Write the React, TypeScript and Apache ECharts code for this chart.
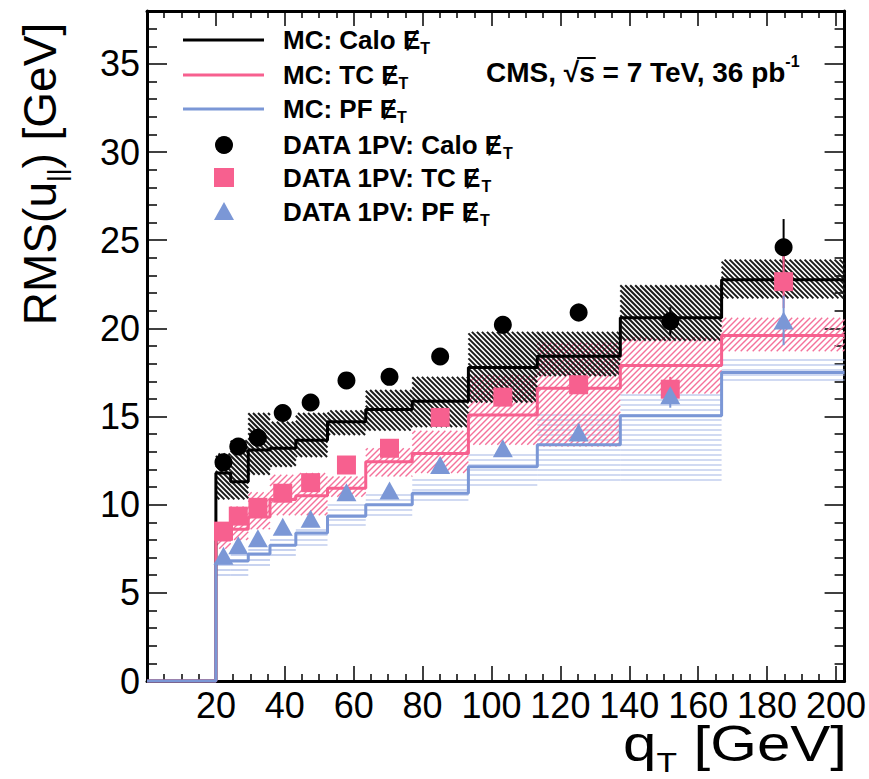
import React, { useEffect, useRef } from 'react';
import * as echarts from 'echarts';

// ---- data ----
const binEdges = [20, 24.3, 29.4, 35.7, 43.2, 52.4, 63.5, 77, 93.3, 113.3, 137.4, 166.8, 202.5];
const qtPoints = [22.2, 26.5, 32.2, 39.4, 47.5, 57.9, 70.4, 85.1, 103.3, 125.3, 151.9, 184.8];

const mcCalo = [11.8, 11.3, 13.1, 13.2, 13.65, 14.7, 15.4, 15.87, 17.78, 18.42, 20.6, 22.76];
const mcCaloLo = [10.3, 10.3, 11.7, 12.15, 12.7, 13.95, 14.2, 14.4, 15.8, 17.3, 19.3, 21.7];
const mcCaloHi = [12.9, 13.65, 15.2, 14.7, 15.2, 15.35, 16.5, 17.25, 19.8, 19.8, 22.45, 23.9];

const mcTc = [8.0, 8.6, 9.3, 10.3, 10.5, 10.93, 12.43, 12.9, 15.08, 16.6, 17.9, 19.6];
const mcTcLo = [7.5, 8.0, 8.6, 9.4, 9.4, 10.45, 11.6, 11.8, 13.4, 13.3, 16.3, 18.7];
const mcTcHi = [8.8, 9.9, 10.7, 11.7, 11.8, 11.6, 13.2, 14.2, 17.35, 19.2, 19.5, 20.6];

const mcPf = [6.7, 6.8, 7.2, 7.7, 8.4, 9.35, 10.0, 10.65, 12.15, 13.4, 15.05, 17.5];
const mcPfLo = [6.0, 6.0, 6.5, 6.9, 7.55, 8.75, 9.4, 10.0, 11.0, 11.4, 11.4, 16.9];
const mcPfHi = [7.05, 7.3, 7.55, 8.0, 8.75, 10.1, 10.65, 11.6, 12.9, 15.3, 16.3, 18.4];

const dataCalo = [12.4, 13.3, 13.8, 15.2, 15.8, 17.05, 17.25, 18.4, 20.2, 20.9, 20.4, 24.6];
const dataCaloErr = [0.2, 0.2, 0.2, 0.2, 0.2, 0.25, 0.25, 0.3, 0.4, 0.5, 0.8, 1.6];
const dataTc = [8.5, 9.35, 9.85, 10.65, 11.25, 12.25, 13.2, 14.95, 16.1, 16.8, 16.55, 22.65];
const dataTcErr = [0.2, 0.2, 0.2, 0.2, 0.2, 0.25, 0.25, 0.3, 0.4, 0.5, 0.7, 1.5];
const dataPf = [7.1, 7.7, 8.1, 8.75, 9.2, 10.7, 10.8, 12.25, 13.2, 14.1, 16.2, 20.45];
const dataPfErr = [0.2, 0.2, 0.2, 0.2, 0.2, 0.25, 0.25, 0.3, 0.4, 0.5, 0.7, 1.4];

const legendLabels = ['MC: Calo ', 'MC: TC ', 'MC: PF ', 'DATA 1PV: Calo ', 'DATA 1PV: TC ', 'DATA 1PV: PF '];

// ---- styling ----
const BLACK = '#000000';
const PINK = '#f7608f';
const BLUE = '#7b97d6';
const FONT = '"Liberation Sans", Arial, Helvetica, sans-serif';

function stepPoints(vals: number[]) {
  const pts: number[][] = [[0, 0], [binEdges[0], 0]];
  vals.forEach((v, i) => {
    pts.push([binEdges[i], v]);
    pts.push([binEdges[i + 1], v]);
  });
  return pts;
}

function hatchSeries(name: string, lo: number[], hi: number[], kind: string, color: string, width: number, spacing: number) {
  return {
    type: 'custom',
    name,
    silent: true,
    z: 2,
    renderItem: (params: any, api: any) => {
      const p0 = api.coord([api.value(0), api.value(3)]);
      const p1 = api.coord([api.value(1), api.value(2)]);
      const cs = params.coordSys;
      const x0 = Math.max(p0[0], cs.x);
      const x1 = Math.min(p1[0], cs.x + cs.width);
      const y0 = p0[1];
      const y1 = p1[1];
      const children: any[] = [];
      const st = { stroke: color, lineWidth: width };
      if (kind === 'h') {
        for (let y = Math.ceil(y0 / spacing) * spacing; y <= y1; y += spacing) {
          children.push({ type: 'line', shape: { x1: x0, y1: y, x2: x1, y2: y }, style: st });
        }
      } else if (kind === 'back') {
        const cmin = y0 - x1;
        const cmax = y1 - x0;
        for (let c = Math.ceil(cmin / spacing) * spacing; c <= cmax; c += spacing) {
          const xa = Math.max(x0, y0 - c);
          const xb = Math.min(x1, y1 - c);
          if (xb > xa) children.push({ type: 'line', shape: { x1: xa, y1: xa + c, x2: xb, y2: xb + c }, style: st });
        }
      } else {
        const cmin = x0 + y0;
        const cmax = x1 + y1;
        for (let c = Math.ceil(cmin / spacing) * spacing; c <= cmax; c += spacing) {
          const xa = Math.max(x0, c - y1);
          const xb = Math.min(x1, c - y0);
          if (xb > xa) children.push({ type: 'line', shape: { x1: xa, y1: c - xa, x2: xb, y2: c - xb }, style: st });
        }
      }
      return { type: 'group', children };
    },
    encode: { x: [0, 1], y: [2, 3] },
    data: lo.map((l, i) => [binEdges[i], binEdges[i + 1], l, hi[i]]),
  };
}

function stepSeries(name: string, vals: number[], color: string, width: number) {
  return {
    type: 'line',
    name,
    data: stepPoints(vals),
    showSymbol: false,
    symbol: 'none',
    clip: false,
    lineStyle: { color, width },
    itemStyle: { color },
    z: 3,
    silent: true,
  };
}

function errSeries(name: string, vals: number[], errs: number[], color: string) {
  return {
    type: 'custom',
    name,
    silent: true,
    z: 5,
    renderItem: (params: any, api: any) => {
      const a = api.coord([api.value(0), api.value(1) - api.value(2)]);
      const b = api.coord([api.value(0), api.value(1) + api.value(2)]);
      return { type: 'line', shape: { x1: a[0], y1: a[1], x2: b[0], y2: b[1] }, style: { stroke: color, lineWidth: 2 } };
    },
    encode: { x: 0, y: 1 },
    data: vals.map((v, i) => [qtPoints[i], v, errs[i]]),
  };
}

function scatterSeries(name: string, vals: number[], symbol: string, size: any, color: string) {
  return {
    type: 'scatter',
    name,
    symbol,
    symbolSize: size,
    itemStyle: { color, opacity: 1 },
    z: 6,
    silent: true,
    data: vals.map((v, i) => [qtPoints[i], v]),
  };
}

const subRich = (size: number, sub: number, bold: boolean) => ({
  a: { fontSize: size, fontWeight: bold ? 'bold' : 'normal', fontFamily: FONT, color: '#000', lineHeight: size * 1.3 },
  s: { fontSize: sub, fontWeight: bold ? 'bold' : 'normal', fontFamily: FONT, color: '#000', lineHeight: sub, verticalAlign: 'bottom' },
  u: { fontSize: sub, fontWeight: bold ? 'bold' : 'normal', fontFamily: FONT, color: '#000', lineHeight: sub, verticalAlign: 'top' },
});

function measure(text: string, font: string) {
  const c = document.createElement('canvas').getContext('2d');
  if (!c) return text.length * 14;
  c.font = font;
  return c.measureText(text).width;
}

export default function App() {
  const ref = useRef<HTMLDivElement>(null);
  useEffect(() => {
    if (!ref.current) return;
    const chart = echarts.init(ref.current, null, { renderer: 'svg' });

    const axisCommon = {
      axisLine: { show: true, onZero: false, lineStyle: { color: '#000', width: 3 } },
      splitLine: { show: false },
    };

    const LEG_FS = 26;
    const legendRowsY = [40, 75, 109, 145, 178, 212];
    const legendColors = [BLACK, PINK, BLUE, BLACK, PINK, BLUE];
    const legendGraphics: any[] = [];
    legendRowsY.forEach((y, i) => {
      if (i < 3) {
        legendGraphics.push({ type: 'line', shape: { x1: 183, y1: y, x2: 264, y2: y }, style: { stroke: legendColors[i], lineWidth: 3 } });
      } else if (i === 3) {
        legendGraphics.push({ type: 'circle', shape: { cx: 224, cy: y, r: 9 }, style: { fill: BLACK } });
      } else if (i === 4) {
        legendGraphics.push({ type: 'rect', shape: { x: 214, y: y - 10, width: 20, height: 19 }, style: { fill: PINK } });
      } else {
        legendGraphics.push({ type: 'polygon', shape: { points: [[224, y - 10], [214, y + 8], [234, y + 8]] }, style: { fill: BLUE } });
      }
      legendGraphics.push({
        type: 'text',
        x: 283,
        y,
        style: {
          text: '{a|' + legendLabels[i] + '\u0246}{s|T}',
          rich: subRich(LEG_FS, 16, true),
          verticalAlign: 'middle',
          align: 'left',
        },
      });
    });

    const CMS_FS = 28;
    const cmsFont = 'bold ' + CMS_FS + 'px "Liberation Sans"';
    const cmsX = 486;
    const cmsY = 72;
    const sqrtStart = cmsX + measure('CMS, \u221A', cmsFont);
    const sqrtEnd = cmsX + measure('CMS, \u221As', cmsFont);

    const option: any = {
      animation: false,
      backgroundColor: '#fff',
      grid: { left: 147, top: 11, width: 698, height: 670, containLabel: false },
      xAxis: [
        {
          type: 'value', min: 0, max: 202.5, interval: 20, position: 'bottom', ...axisCommon,
          axisTick: { show: true, inside: true, length: 15, lineStyle: { color: '#000', width: 1.5 } },
          minorTick: { show: true, splitNumber: 4, length: 7, lineStyle: { color: '#000', width: 1.5 } },
          axisLabel: { show: true, fontSize: 36, color: '#000', fontFamily: FONT, margin: 6, showMaxLabel: false,
            formatter: (v: number) => (v === 0 ? '' : String(v)) },
        },
        {
          type: 'value', min: 0, max: 202.5, interval: 20, position: 'top', ...axisCommon,
          axisTick: { show: true, inside: true, length: 15, lineStyle: { color: '#000', width: 1.5 } },
          minorTick: { show: true, splitNumber: 4, length: 7, lineStyle: { color: '#000', width: 1.5 } },
          axisLabel: { show: false },
        },
      ],
      yAxis: [
        {
          type: 'value', min: 0, max: 38, interval: 5, position: 'left', ...axisCommon,
          axisTick: { show: true, inside: true, length: 20, lineStyle: { color: '#000', width: 1.5 } },
          minorTick: { show: true, splitNumber: 5, length: 10, lineStyle: { color: '#000', width: 1.5 } },
          axisLabel: { show: true, fontSize: 36, color: '#000', fontFamily: FONT, margin: 7, showMaxLabel: false },
        },
        {
          type: 'value', min: 0, max: 38, interval: 5, position: 'right', ...axisCommon,
          axisTick: { show: true, inside: true, length: 20, lineStyle: { color: '#000', width: 1.5 } },
          minorTick: { show: true, splitNumber: 5, length: 10, lineStyle: { color: '#000', width: 1.5 } },
          axisLabel: { show: false },
        },
      ],
      series: [
        hatchSeries('PF band', mcPfLo, mcPfHi, 'h', '#a3b6e6', 1.2, 5),
        hatchSeries('TC band', mcTcLo, mcTcHi, 'fwd', '#f5729b', 1.4, 6),
        hatchSeries('Calo band', mcCaloLo, mcCaloHi, 'back', '#1a1a1a', 2, 5),
        stepSeries('MC: Calo', mcCalo, BLACK, 3),
        stepSeries('MC: TC', mcTc, PINK, 3),
        stepSeries('MC: PF', mcPf, BLUE, 3),
        errSeries('err Calo', dataCalo, dataCaloErr, BLACK),
        errSeries('err TC', dataTc, dataTcErr, PINK),
        errSeries('err PF', dataPf, dataPfErr, BLUE),
        scatterSeries('DATA 1PV: Calo', dataCalo, 'circle', 18, BLACK),
        scatterSeries('DATA 1PV: TC', dataTc, 'rect', 19, PINK),
        scatterSeries('DATA 1PV: PF', dataPf, 'triangle', [20, 18], BLUE),
      ],
      graphic: [
        ...legendGraphics,
        {
          type: 'text',
          x: cmsX,
          y: cmsY,
          style: {
            text: '{a|CMS, \u221As = 7 TeV, 36 pb}{u|-1}',
            rich: subRich(CMS_FS, 16, true),
            verticalAlign: 'middle',
            align: 'left',
          },
        },
        {
          type: 'line',
          shape: { x1: sqrtStart - 2, y1: cmsY - 14, x2: sqrtEnd + 1, y2: cmsY - 14 },
          style: { stroke: '#000', lineWidth: 2 },
        },
        {
          type: 'text',
          x: 40,
          y: 174,
          rotation: Math.PI / 2,
          style: {
            text: '{a|RMS(u}{s|||}{a|) [GeV]}',
            rich: subRich(46, 26, false),
            verticalAlign: 'middle',
            align: 'center',
          },
        },
        {
          type: 'text',
          x: 847,
          y: 744,
          scaleX: 1.2,
          style: {
            text: '{a|q}{s|T}{a| [GeV]}',
            rich: subRich(50, 28, false),
            verticalAlign: 'middle',
            align: 'right',
          },
        },
      ],
    };
    chart.setOption(option);
    return () => chart.dispose();
  }, []);
  return <div ref={ref} style={{ position: 'fixed', left: 0, top: 0, width: 869, height: 779, background: '#fff' }} />;
}
